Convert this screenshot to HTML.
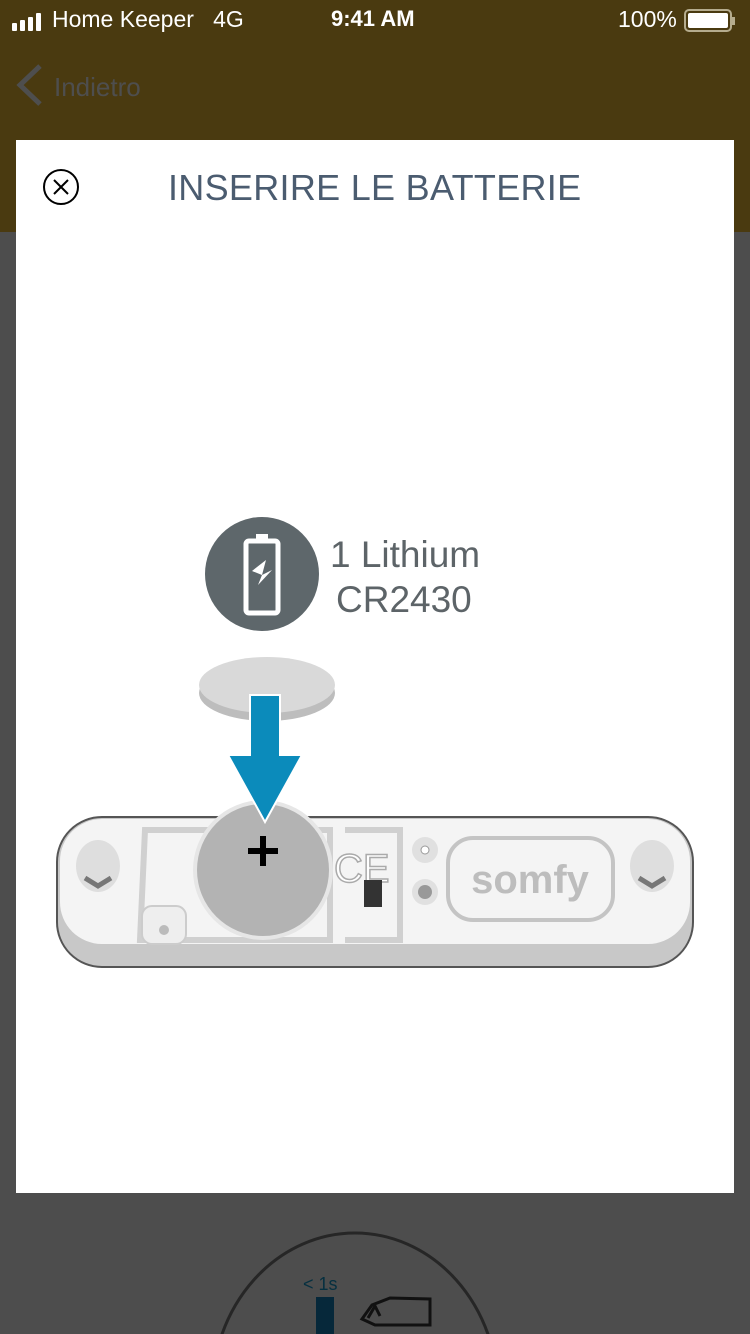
<!DOCTYPE html>
<html style="overflow:hidden"><head><meta charset="utf-8"><style>
html,body{margin:0;width:750px;height:1334px;overflow:hidden}
body{background:#4d4d4d;font-family:"Liberation Sans",sans-serif;position:relative}
.wrap{position:absolute;left:0;top:0;width:750px;height:1334px;overflow:hidden}
.top{position:absolute;left:0;top:0;width:750px;height:232px;background:#4a3a10}
.st{position:absolute;top:6px;color:#fff;font-size:23px;white-space:nowrap}
.modal{position:absolute;left:16px;top:140px;width:718px;height:1053px;background:#fff}
</style></head><body><div class="wrap">
<div class="top"></div>
<div class="st" style="left:12px;top:10px">
<svg width="36" height="18"><rect x="0" y="10" width="5" height="8" rx="1" fill="#fff"/><rect x="8" y="7" width="5" height="11" rx="1" fill="#fff"/><rect x="16" y="4" width="5" height="14" rx="1" fill="#fff"/><rect x="24" y="0" width="5" height="18" rx="1" fill="#fff"/></svg></div>
<div class="st" style="left:52px">Home Keeper&nbsp;&nbsp; 4G</div>
<div class="st" style="left:331px;font-weight:bold;font-size:22px">9:41 AM</div>
<div class="st" style="left:618px">100%</div>
<svg style="position:absolute;left:684px;top:9px" width="52" height="24"><rect x="1" y="1" width="46" height="21" rx="4" fill="none" stroke="#b5ac8e" stroke-width="2"/><rect x="4" y="4" width="40" height="15" rx="2" fill="#fff"/><rect x="48" y="8" width="3" height="8" fill="#b5ac8e"/></svg>
<svg style="position:absolute;left:14px;top:64px" width="30" height="42"><polyline points="26,2 6,21 26,40" fill="none" stroke="#4e4e4e" stroke-width="5"/></svg>
<div style="position:absolute;left:54px;top:72px;font-size:26px;color:#4e4e4e">Indietro</div>
<div class="modal">
<svg style="position:absolute;left:26px;top:28px" width="40" height="40"><circle cx="19" cy="19" r="17" fill="none" stroke="#000" stroke-width="2"/><path d="M12 12L26 26M26 12L12 26" stroke="#000" stroke-width="2"/></svg>
<div style="position:absolute;left:152px;top:27px;font-size:36px;color:#4b5c70;letter-spacing:0.3px;white-space:nowrap">INSERIRE LE BATTERIE</div>
</div>
<svg style="position:absolute;left:0;top:0" width="750" height="1193">
<circle cx="262" cy="574" r="57" fill="#5e676b"/>
<rect x="246" y="541" width="32" height="72" rx="3" fill="none" stroke="#fff" stroke-width="5"/>
<rect x="256" y="534" width="12" height="7" fill="#fff"/>
<path d="M252 571L266 560L262 575L272 570L258 585L262 575Z" fill="#fff"/>
<text x="330" y="567" font-size="37" fill="#5d6468" font-family="Liberation Sans">1 Lithium</text>
<text x="336" y="612" font-size="37" fill="#5d6468" font-family="Liberation Sans">CR2430</text>
<ellipse cx="267" cy="693" rx="68" ry="28" fill="#bdbdbd"/>
<ellipse cx="267" cy="685" rx="68" ry="28" fill="#d9d9d9"/>
<rect x="57" y="817" width="636" height="150" rx="45" fill="#c8c8c8" stroke="#555" stroke-width="2"/>
<rect x="60" y="819" width="630" height="125" rx="42" fill="#f4f4f4"/>
<path d="M145 830H330V940H140Z" fill="none" stroke="#d0d0d0" stroke-width="6"/>
<path d="M345 830H400V940H345" fill="none" stroke="#d0d0d0" stroke-width="6"/>
<circle cx="263" cy="870" r="70" fill="#e6e6e6"/>
<circle cx="263" cy="870" r="66" fill="#b3b3b3"/>
<path d="M248 851H278M263 836V866" stroke="#000" stroke-width="6"/>
<text x="334" y="882" font-size="40" fill="#fff" stroke="#aaa" stroke-width="1.5" font-family="Liberation Sans">CE</text>
<rect x="364" y="880" width="18" height="27" fill="#333"/>
<circle cx="425" cy="850" r="13" fill="#e0e0e0"/><circle cx="425" cy="850" r="4" fill="#fff" stroke="#999"/>
<circle cx="425" cy="892" r="13" fill="#e0e0e0"/><circle cx="425" cy="892" r="7" fill="#999"/>
<rect x="448" y="838" width="165" height="82" rx="25" fill="none" stroke="#c4c4c4" stroke-width="4"/>
<text x="530" y="893" font-size="40" text-anchor="middle" fill="#bdbdbd" font-weight="bold" font-family="Liberation Sans">somfy</text>
<ellipse cx="98" cy="866" rx="22" ry="26" fill="#dedede"/><path d="M85 878L98 886L111 878" stroke="#777" stroke-width="5" fill="none"/>
<ellipse cx="652" cy="866" rx="22" ry="26" fill="#dedede"/><path d="M639 878L652 886L665 878" stroke="#777" stroke-width="5" fill="none"/>
<rect x="142" y="906" width="44" height="38" rx="10" fill="#eee" stroke="#ccc" stroke-width="2"/><circle cx="164" cy="930" r="5" fill="#bbb"/>
<path d="M250 695H280V755H302L265 822L228 755H250Z" fill="#0b8bbb" stroke="#fff" stroke-width="2"/>
</svg>
<svg style="position:absolute;left:0;top:1193px" width="750" height="141">
<ellipse cx="355" cy="200" rx="143" ry="160" fill="none" stroke="#262626" stroke-width="3"/>
<text x="303" y="97" font-size="18" fill="#063040" font-family="Liberation Sans">&lt; 1s</text>
<rect x="316" y="104" width="18" height="37" fill="#06283a"/>
<path d="M362 126L375 132H430V106L390 105L372 112ZM368 125L375 113L380 123" fill="none" stroke="#111" stroke-width="3"/>
</svg>
</div></body></html>
